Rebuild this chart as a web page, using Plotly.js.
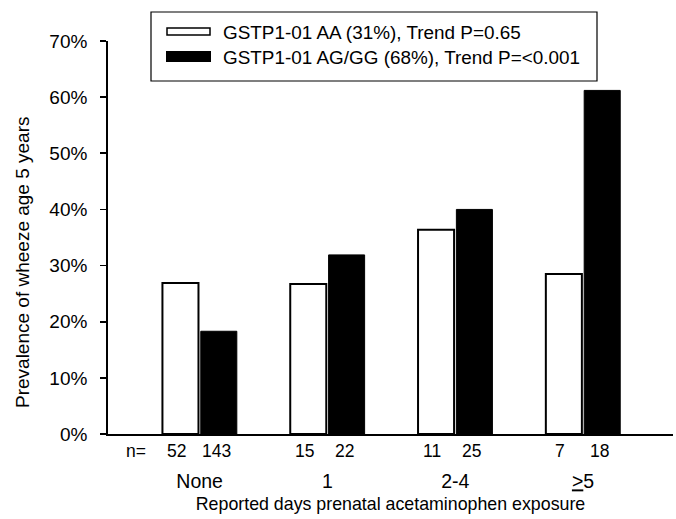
<!DOCTYPE html>
<html>
<head>
<meta charset="utf-8">
<script src="https://cdn.plot.ly/plotly-3.0.1.min.js"></script>
<style>html,body{margin:0;padding:0;background:#fff;}#chart{width:676px;height:519px;}</style>
</head>
<body>
<div id="chart"></div>
<script>
// ---- data ----
const categories = ["None", "1", "2-4", "<u>></u>5"];
const seriesNames = ["GSTP1-01 AA (31%), Trend P=0.65", "GSTP1-01 AG/GG (68%), Trend P=<0.001"];
const valuesAA = [0.269, 0.267, 0.364, 0.285];
const valuesAGGG = [0.183, 0.319, 0.400, 0.612];
const nAA = [52, 15, 11, 7];
const nAGGG = [143, 22, 25, 18];
const yTickVals = [0, 0.1, 0.2, 0.3, 0.4, 0.5, 0.6, 0.7];
const yTitle = "Prevalence of wheeze age 5 years";
const xTitle = "Reported days prenatal acetaminophen exposure";

// ---- layout helpers ----
const W = 676, H = 519;
const M = {l: 108, r: 3, t: 41, b: 85};
const PW = W - M.l - M.r, PH = H - M.t - M.b;
const px = x => (x - M.l) / PW;
const py = y => (H - M.b - y) / PH;
const FONT = "Liberation Sans, Arial, sans-serif";

const xIdx = categories.map((c, i) => i);
const BG = 0.4, BGG = 0.06;
const slot = (1 - BG) / 2;

const traces = [
  {type: "bar", x: xIdx, y: valuesAA, name: seriesNames[0],
   marker: {color: "#ffffff", line: {color: "#000000", width: 2}}, showlegend: false, hoverinfo: "y"},
  {type: "bar", x: xIdx, y: valuesAGGG, name: seriesNames[1],
   marker: {color: "#000000", line: {color: "#000000", width: 1}}, showlegend: false, hoverinfo: "y"}
];

const annotations = [];
// n labels
annotations.push({xref: "x", yref: "paper", x: -0.5, y: py(451), text: "n=", showarrow: false,
  xanchor: "center", yanchor: "middle", font: {family: FONT, size: 17.5, color: "#000"}});
xIdx.forEach(i => {
  annotations.push({xref: "x", yref: "paper", x: i - slot / 2 - 0.03, y: py(451), text: String(nAA[i]), showarrow: false,
    xanchor: "center", yanchor: "middle", font: {family: FONT, size: 17.5, color: "#000"}});
  annotations.push({xref: "x", yref: "paper", x: i + slot / 2 - 0.02, y: py(451), text: String(nAGGG[i]), showarrow: false,
    xanchor: "center", yanchor: "middle", font: {family: FONT, size: 17.5, color: "#000"}});
});
// y title
annotations.push({xref: "paper", yref: "paper", x: px(22), y: py(262), text: yTitle, textangle: -90, showarrow: false,
  xanchor: "center", yanchor: "middle", font: {family: FONT, size: 19, color: "#000"}});
// legend text
annotations.push({xref: "paper", yref: "paper", x: px(221), y: py(32), text: seriesNames[0], showarrow: false,
  xanchor: "left", yanchor: "middle", font: {family: FONT, size: 18.9, color: "#000"}});
annotations.push({xref: "paper", yref: "paper", x: px(221), y: py(57), text: seriesNames[1].replace("<", "&lt;"), showarrow: false,
  xanchor: "left", yanchor: "middle", font: {family: FONT, size: 18.9, color: "#000"}});

const shapes = [
  {type: "rect", xref: "paper", yref: "paper", x0: px(151), x1: px(597), y0: py(81), y1: py(12),
   line: {color: "#000", width: 1.2}, fillcolor: "rgba(0,0,0,0)"},
  {type: "rect", xref: "paper", yref: "paper", x0: px(167), x1: px(210), y0: py(35), y1: py(28),
   line: {color: "#000", width: 1.5}, fillcolor: "#fff"},
  {type: "rect", xref: "paper", yref: "paper", x0: px(166), x1: px(211), y0: py(62), y1: py(51),
   line: {color: "#000", width: 0}, fillcolor: "#000"}
];

const layout = {
  width: W, height: H,
  margin: M,
  paper_bgcolor: "#fff", plot_bgcolor: "#fff",
  font: {family: FONT, color: "#000", size: 17},
  barmode: "group", bargap: BG, bargroupgap: BGG,
  showlegend: false,
  xaxis: {
    range: [-0.717, 3.704], tickvals: xIdx, ticktext: categories,
    showline: true, linecolor: "#000", linewidth: 2, showgrid: false, zeroline: false,
    ticks: "", ticklabelstandoff: 29,
    tickfont: {family: FONT, size: 19.5, color: "#000"},
    title: {text: xTitle, font: {family: FONT, size: 17.8, color: "#000"}, standoff: 6},
    fixedrange: true
  },
  yaxis: {
    range: [0, 0.7], tickvals: yTickVals, tickformat: ".0%",
    showline: true, linecolor: "#000", linewidth: 1.8, showgrid: false, zeroline: false,
    ticks: "outside", ticklen: 6, tickwidth: 1.8, tickcolor: "#000", ticklabelstandoff: 9,
    tickfont: {family: FONT, size: 19, color: "#000"},
    fixedrange: true
  },
  annotations: annotations,
  shapes: shapes
};

Plotly.newPlot("chart", traces, layout, {displayModeBar: false, staticPlot: true});
</script>
</body>
</html>
